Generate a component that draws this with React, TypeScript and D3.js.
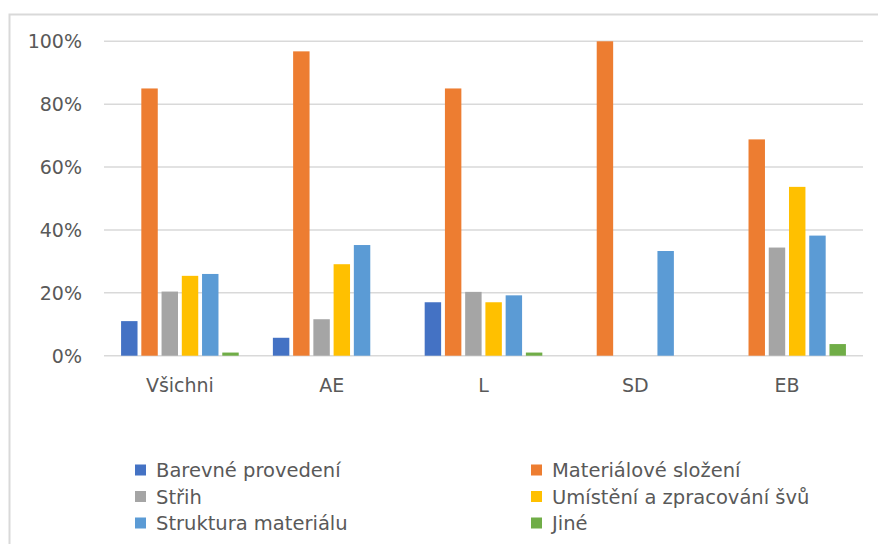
import React from "react";
import * as d3 from "d3";

const categories = ["Všichni", "AE", "L", "SD", "EB"];
const seriesNames = [
  "Barevné provedení",
  "Materiálové složení",
  "Střih",
  "Umístění a zpracování švů",
  "Struktura materiálu",
  "Jiné",
];
const barevneProvedeni = [11, 5.7, 17, 0, 0];
const materialoveSlozeni = [85, 96.8, 85, 100, 68.8];
const strih = [20.4, 11.6, 20.3, 0, 34.4];
const umisteniSvu = [25.4, 29.1, 17, 0, 53.7];
const strukturaMaterialu = [26, 35.2, 19.2, 33.3, 38.2];
const jine = [1, 0, 1, 0, 3.7];
const yTicks = [0, 20, 40, 60, 80, 100];
const colors = ["#4472C4", "#ED7D31", "#A5A5A5", "#FFC000", "#5B9BD5", "#70AD47"];

const seriesValues = [
  barevneProvedeni,
  materialoveSlozeni,
  strih,
  umisteniSvu,
  strukturaMaterialu,
  jine,
];

const W = 878;
const H = 544;
const FONT = "'DejaVu Sans', sans-serif";
const TXT = "#595959";

export default function App() {
  const x0 = d3.scaleBand<string>().domain(categories).range([104, 863]).paddingInner(0).paddingOuter(0);
  const x1 = d3
    .scaleBand<string>()
    .domain(seriesNames)
    .range([0, x0.bandwidth()])
    .paddingInner(0)
    .paddingOuter(0.75);
  const y = d3.scaleLinear().domain([0, 100]).range([355.7, 41.3]);
  const inset = 1.9;

  const legendCols = [135, 531];
  const legendRows = [477, 503.5, 530];

  return (
    <svg
      width={W}
      height={H}
      style={{ position: "absolute", left: 0, top: 0, background: "#fff" }}
      fontFamily={FONT}
    >
      <rect x={0} y={0} width={W} height={H} fill="#fff" />
      <rect x={9.5} y={14.5} width={W + 20} height={H + 20} fill="none" stroke="#D9D9D9" strokeWidth={2} />
      {yTicks.map((t) => (
        <g key={t}>
          <line x1={104} x2={863} y1={y(t)} y2={y(t)} stroke="#D9D9D9" strokeWidth={1.5} />
          <text x={82} y={y(t) + 7} textAnchor="end" fontSize={19} fill={TXT}>
            {t}%
          </text>
        </g>
      ))}
      {categories.map((c, ci) => (
        <g key={c}>
          {seriesNames.map((s, si) => {
            const v = seriesValues[si][ci];
            if (!v) return null;
            const bx = (x0(c) as number) + (x1(s) as number);
            return (
              <rect
                key={s}
                x={bx + inset}
                width={x1.bandwidth() - 2 * inset}
                y={y(v)}
                height={y(0) - y(v)}
                fill={colors[si]}
              />
            );
          })}
          <text
            x={(x0(c) as number) + x0.bandwidth() / 2}
            y={392}
            textAnchor="middle"
            fontSize={19}
            fill={TXT}
          >
            {c}
          </text>
        </g>
      ))}
      {seriesNames.map((s, si) => {
        const col = si % 2;
        const row = Math.floor(si / 2);
        const lx = legendCols[col];
        const ly = legendRows[row];
        return (
          <g key={s}>
            <rect x={lx} y={ly - 12.5} width={11} height={11} fill={colors[si]} />
            <text x={lx + 21} y={ly} fontSize={19.5} fill={TXT}>
              {s}
            </text>
          </g>
        );
      })}
    </svg>
  );
}
